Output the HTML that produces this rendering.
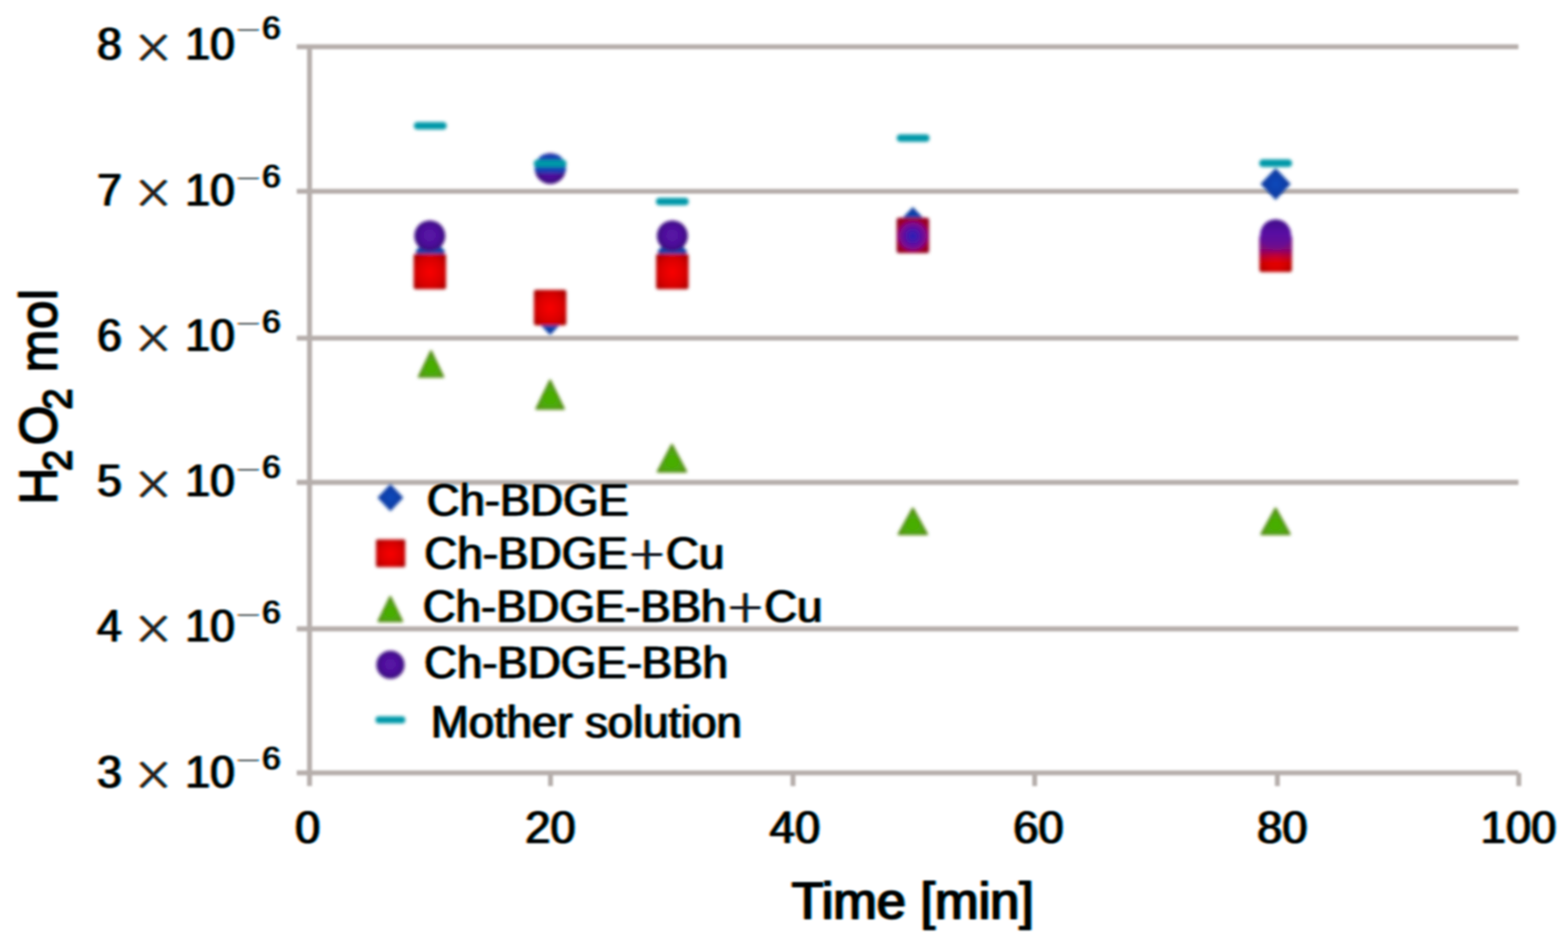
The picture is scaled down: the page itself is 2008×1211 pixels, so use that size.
<!DOCTYPE html>
<html lang="en"><head><meta charset="utf-8"><title>H2O2 mol vs Time</title>
<style>html,body{margin:0;padding:0;background:#fff}body{width:2008px;height:1211px;overflow:hidden}svg{display:block}text{font-family:"Liberation Sans",sans-serif;fill:#000;stroke:#000;stroke-width:0.5px;stroke-linejoin:round}.m{font-family:"DejaVu Sans Light","DejaVu Sans","Liberation Sans",sans-serif;font-weight:200;stroke-width:0.5px;fill:#2a1a18;stroke:#2a1a18}</style></head><body>
<svg width="2008" height="1211" viewBox="0 0 2008 1211">
<defs>
<filter id="b" x="-20%" y="-20%" width="140%" height="140%"><feGaussianBlur stdDeviation="1.9"/></filter><filter id="bl" x="-5%" y="-400%" width="110%" height="900%"><feGaussianBlur stdDeviation="1.6"/></filter>
<filter id="bt" x="-2%" y="-2%" width="104%" height="104%" color-interpolation-filters="sRGB"><feOffset in="SourceAlpha" dx="-2" result="l"/><feFlood flood-color="#ff9428"/><feComposite in2="l" operator="in" result="lo"/><feOffset in="SourceAlpha" dx="2" result="r"/><feFlood flood-color="#18a8ff"/><feComposite in2="r" operator="in" result="ro"/><feMerge><feMergeNode in="lo"/><feMergeNode in="ro"/><feMergeNode in="SourceGraphic"/></feMerge><feGaussianBlur stdDeviation="1"/></filter>
<radialGradient id="rg" cx="50%" cy="52%" r="72%"><stop offset="0" stop-color="#fa0000"/><stop offset="0.55" stop-color="#d80000"/><stop offset="1" stop-color="#9c0008"/></radialGradient>
<radialGradient id="rg2" cx="50%" cy="50%" r="72%"><stop offset="0" stop-color="#c00020"/><stop offset="1" stop-color="#8c0024"/></radialGradient>
<radialGradient id="pg" cx="50%" cy="48%" r="52%"><stop offset="0" stop-color="#5c14a8"/><stop offset="0.6" stop-color="#4c109a"/><stop offset="1" stop-color="#380a78"/></radialGradient>
<radialGradient id="pg2" cx="50%" cy="52%" r="52%"><stop offset="0" stop-color="#2424b8"/><stop offset="0.45" stop-color="#5412a8"/><stop offset="0.85" stop-color="#86068c" stop-opacity="0.95"/><stop offset="1" stop-color="#900050" stop-opacity="0.8"/></radialGradient>
<linearGradient id="pg3" x1="0" y1="0" x2="0" y2="1"><stop offset="0" stop-color="#400c88"/><stop offset="0.45" stop-color="#5812a4"/><stop offset="0.75" stop-color="#6a0a90"/><stop offset="1" stop-color="#a00040" stop-opacity="0.85"/></linearGradient>
<radialGradient id="gg" cx="50%" cy="62%" r="60%"><stop offset="0" stop-color="#44b000"/><stop offset="0.6" stop-color="#4ea80a"/><stop offset="1" stop-color="#5c9814"/></radialGradient>
<radialGradient id="bg" cx="50%" cy="50%" r="55%"><stop offset="0" stop-color="#0848bc"/><stop offset="1" stop-color="#0a3898"/></radialGradient>
<linearGradient id="ov" x1="0" y1="0" x2="0" y2="1"><stop offset="0" stop-color="#5a10a0" stop-opacity="0.95"/><stop offset="0.5" stop-color="#700890" stop-opacity="0.8"/><stop offset="1" stop-color="#a00040" stop-opacity="0"/></linearGradient>
<clipPath id="c20"><circle cx="704.7" cy="215.8" r="20"/></clipPath>
</defs>
<rect width="2008" height="1211" fill="#fff"/>
<g filter="url(#bl)" stroke="#b6aeab" stroke-width="6.3" fill="none">
<line x1="380" y1="59.9" x2="1944.5" y2="59.9"/>
<line x1="380" y1="244.8" x2="1944.5" y2="244.8"/>
<line x1="380" y1="432.8" x2="1944.5" y2="432.8"/>
<line x1="380" y1="617.5" x2="1944.5" y2="617.5"/>
<line x1="380" y1="805.0" x2="1944.5" y2="805.0"/>
<line x1="380" y1="989.3" x2="1944.5" y2="989.3"/>
<line x1="396.4" y1="57.5" x2="396.4" y2="1006.3"/>
<line x1="705.0" y1="989.3" x2="705.0" y2="1006.3"/>
<line x1="1015.5" y1="989.3" x2="1015.5" y2="1006.3"/>
<line x1="1325.0" y1="989.3" x2="1325.0" y2="1006.3"/>
<line x1="1635.8" y1="989.3" x2="1635.8" y2="1006.3"/>
<line x1="1945.0" y1="989.3" x2="1945.0" y2="1006.3"/>
</g>
<g filter="url(#b)">
<path d="M551.0 301.6L570.3 322.0L551.0 342.4L531.7 322.0Z" fill="url(#bg)"/>
<path d="M704.5 388.1L723.8 408.5L704.5 428.9L685.2 408.5Z" fill="url(#bg)"/>
<path d="M861.0 301.6L880.3 322.0L861.0 342.4L841.7 322.0Z" fill="url(#bg)"/>
<path d="M1169.0 265.1L1188.3 285.5L1169.0 305.9L1149.7 285.5Z" fill="url(#bg)"/>
<path d="M1633.6 215.2L1652.9 235.6L1633.6 256.0L1614.3 235.6Z" fill="url(#bg)"/>
<rect x="529.7" y="324.8" width="41.6" height="45.4" rx="3" fill="url(#rg)"/>
<rect x="683.7" y="371.0" width="41.6" height="45.4" rx="3" fill="url(#rg)"/>
<rect x="840.2" y="324.8" width="41.6" height="45.4" rx="3" fill="url(#rg)"/>
<rect x="1148.2" y="278.7" width="41.6" height="45.4" rx="3" fill="url(#rg2)"/>
<rect x="1612.8" y="302.8" width="41.6" height="45.4" rx="3" fill="url(#rg)"/>
<path d="M552.0 449.4L567.7 482.4L536.3 482.4Z" fill="url(#gg)" stroke="#4e8610" stroke-width="2.4" stroke-linejoin="round"/>
<path d="M704.5 486.9L722.2 523.4L686.8 523.4Z" fill="url(#gg)" stroke="#4e8610" stroke-width="2.4" stroke-linejoin="round"/>
<path d="M860.5 569.4L878.7 603.9L842.3 603.9Z" fill="url(#gg)" stroke="#4e8610" stroke-width="2.4" stroke-linejoin="round"/>
<path d="M1169.0 650.9L1187.2 683.9L1150.8 683.9Z" fill="url(#gg)" stroke="#4e8610" stroke-width="2.4" stroke-linejoin="round"/>
<path d="M1633.5 650.9L1651.7 683.9L1615.3 683.9Z" fill="url(#gg)" stroke="#4e8610" stroke-width="2.4" stroke-linejoin="round"/>
<circle cx="550.4" cy="302.0" r="19.8" fill="url(#pg)"/>
<circle cx="704.7" cy="215.8" r="19.8" fill="url(#pg)"/>
<circle cx="861.0" cy="302.0" r="19.8" fill="url(#pg)"/>
<circle cx="1169.0" cy="301.4" r="19.8" fill="url(#pg2)"/>
<circle cx="1633.6" cy="300.6" r="19.8" fill="url(#pg3)"/>
<rect x="682" y="197.5" width="46" height="24" rx="9" fill="#1440b4" clip-path="url(#c20)"/>
<rect x="1612.8" y="302" width="41.6" height="36" fill="url(#ov)"/>
<rect x="530.0" y="156.2" width="42" height="9.6" rx="4.5" fill="#0098a8"/>
<rect x="683.5" y="204.5" width="42" height="9.6" rx="4.5" fill="#0098a8"/>
<rect x="840.0" y="253.2" width="42" height="9.6" rx="4.5" fill="#0098a8"/>
<rect x="1148.4" y="171.9" width="42" height="9.6" rx="4.5" fill="#0098a8"/>
<rect x="1612.6" y="204.1" width="42" height="9.6" rx="4.5" fill="#0098a8"/>
<path d="M500 619.5L516.5 637L500 654.5L483.5 637Z" fill="url(#bg)"/>
<rect x="481.5" y="690.5" width="37.5" height="35.5" rx="2" fill="url(#rg)"/>
<path d="M499.8 764L515 795.3L484.6 795.3Z" fill="url(#gg)" stroke="#4e8610" stroke-width="2.4" stroke-linejoin="round"/>
<circle cx="500" cy="851" r="18" fill="url(#pg)"/>
<rect x="481" y="917" width="38" height="9" rx="4" fill="#0098a8"/>
</g>
<g filter="url(#bt)">
<text font-size="57"><tspan x="124.2" y="76.30">8 </tspan><tspan class="m" font-size="64.2" x="169.4" y="80.70">× </tspan><tspan x="237.3" y="76.30">10</tspan><tspan class="m" style="fill:#777;stroke:#777;stroke-width:1px" font-size="37.2" x="302.2" y="49.80">−</tspan><tspan font-size="42.3" x="335.7" y="49.85">6</tspan></text>
<text font-size="57"><tspan x="124.2" y="262.90">7 </tspan><tspan class="m" font-size="64.2" x="169.4" y="267.30">× </tspan><tspan x="237.3" y="262.90">10</tspan><tspan class="m" style="fill:#777;stroke:#777;stroke-width:1px" font-size="37.2" x="302.2" y="239.85">−</tspan><tspan font-size="42.3" x="335.7" y="239.70">6</tspan></text>
<text font-size="57"><tspan x="124.2" y="448.95">6 </tspan><tspan class="m" font-size="64.2" x="169.4" y="453.35">× </tspan><tspan x="237.3" y="448.95">10</tspan><tspan class="m" style="fill:#777;stroke:#777;stroke-width:1px" font-size="37.2" x="302.2" y="426.35">−</tspan><tspan font-size="42.3" x="335.7" y="425.70">6</tspan></text>
<text font-size="57"><tspan x="124.2" y="635.20">5 </tspan><tspan class="m" font-size="64.2" x="169.4" y="639.60">× </tspan><tspan x="237.3" y="635.20">10</tspan><tspan class="m" style="fill:#777;stroke:#777;stroke-width:1px" font-size="37.2" x="302.2" y="612.85">−</tspan><tspan font-size="42.3" x="335.7" y="612.00">6</tspan></text>
<text font-size="57"><tspan x="124.2" y="820.95">4 </tspan><tspan class="m" font-size="64.2" x="169.4" y="825.35">× </tspan><tspan x="237.3" y="820.95">10</tspan><tspan class="m" style="fill:#777;stroke:#777;stroke-width:1px" font-size="37.2" x="302.2" y="798.95">−</tspan><tspan font-size="42.3" x="335.7" y="798.40">6</tspan></text>
<text font-size="57"><tspan x="124.2" y="1007.90">3 </tspan><tspan class="m" font-size="64.2" x="169.4" y="1012.30">× </tspan><tspan x="237.3" y="1007.90">10</tspan><tspan class="m" style="fill:#777;stroke:#777;stroke-width:1px" font-size="37.2" x="302.2" y="984.95">−</tspan><tspan font-size="42.3" x="335.7" y="985.00">6</tspan></text>
<text transform="translate(393.9 1079.0) scale(1.005 1)" font-size="58" text-anchor="middle">0</text>
<text transform="translate(704.8 1079.0) scale(1.005 1)" font-size="58" text-anchor="middle">20</text>
<text transform="translate(1018.0 1079.0) scale(1.005 1)" font-size="58" text-anchor="middle">40</text>
<text transform="translate(1329.8 1079.0) scale(1.005 1)" font-size="58" text-anchor="middle">60</text>
<text transform="translate(1642.1 1079.0) scale(1.005 1)" font-size="58" text-anchor="middle">80</text>
<text transform="translate(1944.6 1079.0) scale(1.005 1)" font-size="58" text-anchor="middle">100</text>
<text transform="translate(1168.8 1176.0)" font-size="67" text-anchor="middle" style="stroke-width:1.3px">Time [min]</text>
<text transform="translate(72.0 508.0) rotate(-90)" font-size="66.5" text-anchor="middle" style="stroke-width:1.3px">H<tspan font-size="50" dy="19" dx="-5">2</tspan><tspan dy="-19" dx="5">O</tspan><tspan font-size="50" dy="19" dx="-6">2</tspan><tspan dy="-19" dx="1.5"> mol</tspan></text>
<text transform="translate(546.5 659.5) scale(1.012 1)" font-size="57.5">Ch-BDGE</text>
<text transform="translate(543.3 727.5) scale(1.020 1)" font-size="57.5">Ch-BDGE<tspan class="m" font-size="57" style="fill:#14141c;stroke:#14141c;stroke-width:1.3px">+</tspan>Cu</text>
<text transform="translate(541.5 795.5) scale(1.014 1)" font-size="57.5">Ch-BDGE-BBh<tspan class="m" font-size="57" style="fill:#14141c;stroke:#14141c;stroke-width:1.3px">+</tspan>Cu</text>
<text transform="translate(543.0 867.5) scale(1.015 1)" font-size="57.5">Ch-BDGE-BBh</text>
<text transform="translate(551.8 943.5) scale(1.013 1)" font-size="57.5">Mother solution</text>
</g>
</svg></body></html>
